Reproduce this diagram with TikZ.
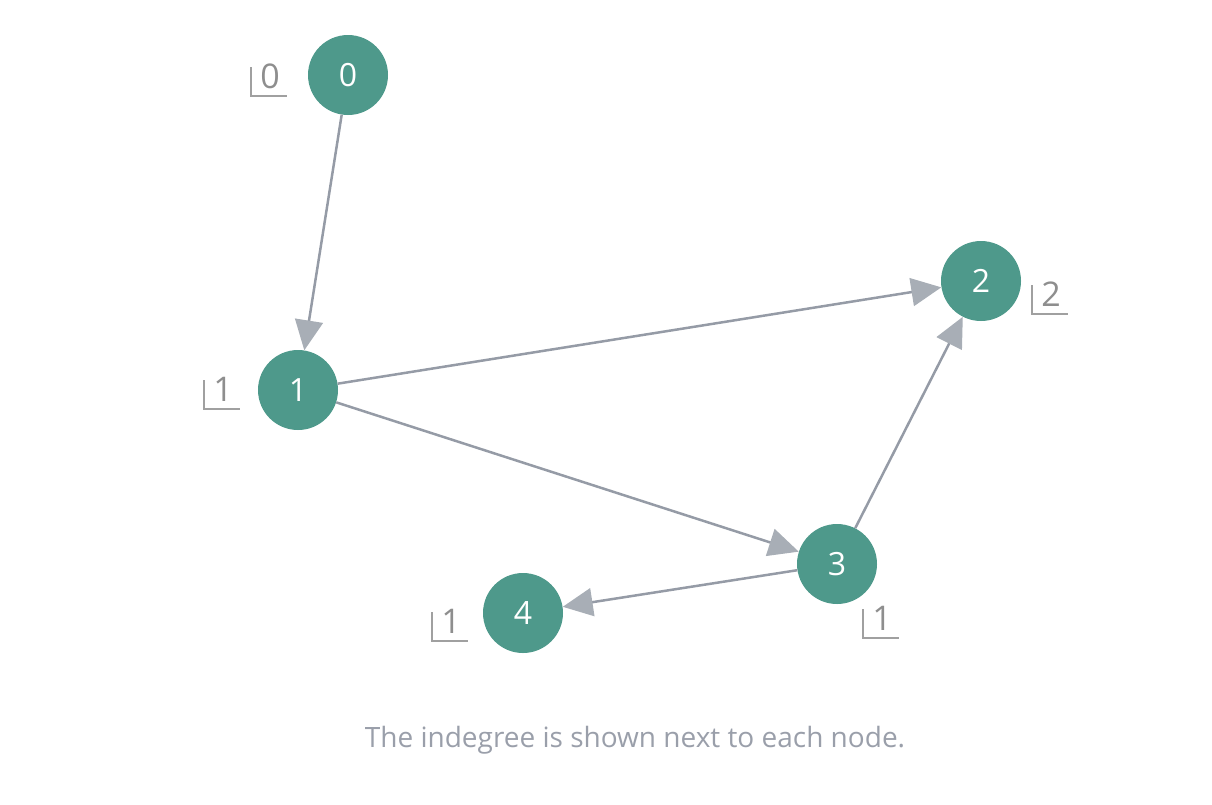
\documentclass[tikz,border=0pt]{standalone}
\usepackage{fontspec}
\setmainfont{Open Sans}
\usetikzlibrary{arrows.meta}
\definecolor{nodefill}{HTML}{4E998B}
\definecolor{edgec}{HTML}{959BA6}
\definecolor{arrowc}{HTML}{A8AEB6}
\definecolor{labelc}{HTML}{8E8E8E}
\definecolor{markc}{HTML}{A0A0A0}
\definecolor{capc}{HTML}{9A9FAA}
\tikzset{
  vert/.style={circle, fill=nodefill, minimum size=80pt, inner sep=0pt, text=white, font=\fontsize{32}{38}\selectfont},
  edge/.style={draw=edgec, line width=2.5pt, -{Triangle[length=30pt,width=28pt,color=arrowc]}, shorten >=0pt},
  degmark/.style={draw=markc, line width=1.3pt},
  degtext/.style={text=labelc, font=\fontsize{34}{40}\selectfont, inner sep=0pt},
}
\begin{document}
\begin{tikzpicture}[x=1pt,y=-1pt]
\useasboundingbox (0,0) rectangle (1212,804);
\node[vert] (n0) at (348,75) {0};
\node[vert] (n1) at (298,390) {1};
\node[vert] (n2) at (981,281) {2};
\node[vert] (n3) at (837,564) {3};
\node[vert] (n4) at (523,613) {4};
\draw[edge] (n0) -- (n1);
\draw[edge] (n1) -- (n2);
\draw[edge] (n1) -- (n3);
\draw[edge] (n3) -- (n2);
\draw[edge] (n3) -- (n4);
% indegree markers
\foreach \nm/\x/\y/\d in {d0/251/96/0, d1/204/409/1, d2/1032/314/2, d3/863/638/1, d4/432/641/1}{
  \draw[degmark] (\x,\y-29) -- (\x,\y) -- (\x+36,\y);
  \node[degtext] (\nm) at (\x+19,\y-20) {\d};
}
\node[text=capc, font=\fontsize{28}{33}\selectfont] (cap) at (635,740) {The indegree is shown next to each node.};
\end{tikzpicture}
\end{document}
